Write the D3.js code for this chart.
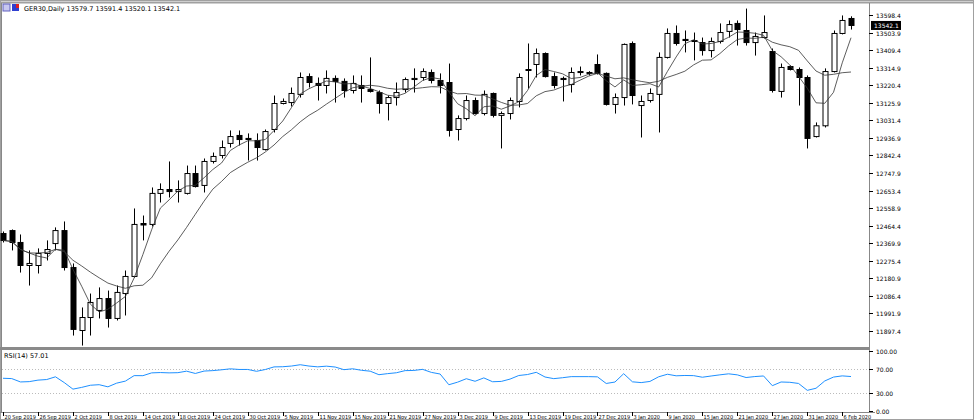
<!DOCTYPE html><html><head><meta charset="utf-8">
<script src="https://cdn.jsdelivr.net/npm/d3@7/dist/d3.min.js"></script>
<style>body{margin:0;background:#fff}svg{display:block;font-family:Tahoma,"DejaVu Sans",sans-serif}</style></head><body>
<svg id="c" width="974" height="420"></svg>
<script>
const opens=[12422,12438,12374,12250,12250,12315,12368,12438,12239,11900,11970,12008,12072,11965,12099,12191,12476,12471,12638,12659,12648,12638,12745,12681,12810,12842,12907,12950,12934,12923,12874,12982,13122,13127,13171,13267,13230,13219,13257,13241,13192,13219,13197,13181,13122,13154,13197,13251,13262,13289,13246,13235,12982,13041,13138,13068,13176,13058,13068,13133,13305,13332,13391,13267,13257,13224,13294,13284,13332,13284,13117,13154,13445,13111,13138,13171,13370,13499,13467,13461,13450,13407,13456,13510,13553,13515,13450,13477,13402,13187,13321,13305,13262,12944,13002,13294,13499,13579.7];
const highs=[12433,12444,12417,12331,12342,12385,12455,12487,12261,12024,12099,12132,12115,12142,12223,12557,12519,12670,12692,12810,12708,12788,12788,12826,12858,12923,12977,12977,12961,12961,12982,13165,13149,13208,13289,13284,13262,13300,13273,13257,13273,13273,13370,13192,13165,13235,13262,13311,13311,13305,13284,13337,13058,13165,13154,13192,13181,13079,13154,13284,13445,13418,13397,13289,13267,13316,13321,13296,13386,13289,13176,13445,13456,13165,13203,13397,13526,13542,13515,13504,13477,13477,13553,13569,13569,13633,13504,13596,13418,13337,13327,13316,13273,13020,13311,13515,13596,13591.4];
const lows=[12374,12331,12212,12142,12207,12277,12331,12223,11873,11819,11873,11965,11916,11954,11981,12185,12385,12460,12589,12616,12589,12632,12670,12643,12799,12826,12885,12896,12815,12815,12869,12966,13117,13106,13154,13208,13138,13176,13127,13154,13176,13127,13181,13068,13031,13111,13181,13181,13246,13230,13176,12944,12923,13031,13063,13058,13047,12880,13036,13101,13203,13262,13262,13203,13133,13181,13273,13273,13278,13111,13068,13111,13117,12939,13127,12966,13364,13434,13397,13354,13380,13370,13445,13477,13434,13434,13380,13472,13181,13154,13300,13111,12880,12939,12993,13289,13494,13520.1];
const closes=[12385,12374,12250,12261,12315,12336,12438,12239,11906,11970,12051,12072,11965,12105,12191,12471,12468,12638,12659,12648,12659,12745,12675,12810,12837,12885,12944,12928,12928,12885,12971,13122,13133,13176,13262,13235,13219,13257,13241,13192,13230,13203,13187,13122,13154,13181,13251,13257,13294,13246,13219,12977,13041,13138,13068,13171,13058,13068,13138,13262,13300,13391,13267,13219,13251,13289,13289,13289,13284,13117,13154,13440,13165,13133,13176,13370,13499,13445,13461,13456,13407,13456,13504,13547,13520,13450,13483,13504,13192,13316,13305,13262,12934,13002,13294,13499,13569,13542.1];
const dateLabels=["20 Sep 2019","26 Sep 2019","2 Oct 2019","8 Oct 2019","14 Oct 2019","18 Oct 2019","24 Oct 2019","30 Oct 2019","5 Nov 2019","11 Nov 2019","15 Nov 2019","21 Nov 2019","27 Nov 2019","3 Dec 2019","9 Dec 2019","13 Dec 2019","19 Dec 2019","27 Dec 2019","3 Jan 2020","9 Jan 2020","15 Jan 2020","21 Jan 2020","27 Jan 2020","31 Jan 2020","6 Feb 2020"];
const priceTicks=[13598.4,13503.9,13409.4,13314.9,13220.4,13125.9,13031.4,12936.9,12842.4,12747.9,12653.4,12558.9,12464.4,12369.9,12275.4,12180.9,12086.4,11991.9,11897.4];
const rsiTicks=[100,70,30,0];

const svg=d3.select("#c");
const n=closes.length;
const x=d3.scaleLinear().domain([0,n-1]).range([3,851]);
const y=d3.scaleLinear().domain([11897.4,13598.4]).range([331,15]);
const yr=d3.scaleLinear().domain([0,100]).range([411,351]);
const W=869;
svg.append("rect").attr("x",0.5).attr("y",0.5).attr("width",973).attr("height",419).attr("fill","none").attr("stroke","#a0a0a0");
svg.append("line").attr("x1",0).attr("x2",974).attr("y1",2.5).attr("y2",2.5).attr("stroke","#a0a0a0").attr("stroke-width",2);
svg.append("line").attr("x1",W+0.5).attr("x2",W+0.5).attr("y1",3).attr("y2",412).attr("stroke","#888");
svg.append("rect").attr("x",0).attr("y",347).attr("width",W).attr("height",3).attr("fill","#8a8a8a");
svg.append("line").attr("x1",0).attr("x2",W+6).attr("y1",412.5).attr("y2",412.5).attr("stroke","#888");
svg.append("line").attr("x1",1.5).attr("x2",1.5).attr("y1",3).attr("y2",412).attr("stroke","#888");
svg.append("rect").attr("x",3).attr("y",4).attr("width",7).attr("height",7).attr("fill","#c8c8f0").attr("stroke","#6060c0");
svg.append("rect").attr("x",12).attr("y",4).attr("width",7).attr("height",7).attr("fill","#3040d0");
svg.append("rect").attr("x",16).attr("y",4).attr("width",3).attr("height",4).attr("fill","#e02020");
svg.append("text").attr("x",24).attr("y",10.5).attr("font-size",6.5).text("GER30,Daily  13579.7 13591.4 13520.1 13542.1");
const ya=svg.append("g");
priceTicks.forEach(v=>{const yy=Math.round(y(v))+0.5;
 ya.append("line").attr("x1",W).attr("x2",W+4).attr("y1",yy).attr("y2",yy).attr("stroke","#000");
 ya.append("text").attr("x",W+7).attr("y",yy+2.5).attr("font-size",6).text(v.toFixed(1));});
const ly=y(closes[n-1]);
svg.append("rect").attr("x",W+2).attr("y",ly-4.5).attr("width",30).attr("height",9).attr("fill","#000");
svg.append("text").attr("x",W+5).attr("y",ly+2.5).attr("font-size",6).attr("fill","#fff").text(closes[n-1].toFixed(1));
rsiTicks.forEach(v=>{const yy=Math.round(yr(v))+0.5;
 svg.append("line").attr("x1",W).attr("x2",W+4).attr("y1",yy).attr("y2",yy).attr("stroke","#000");
 svg.append("text").attr("x",W+7).attr("y",Math.min(yy+2.5,416)).attr("font-size",6).text(v.toFixed(2));
 if(v==70||v==30) svg.append("line").attr("x1",2).attr("x2",W).attr("y1",yy).attr("y2",yy).attr("stroke","#bbb").attr("stroke-dasharray","1,2");});
dateLabels.forEach((d,k)=>{const xx=Math.round(x(k*4))+0.5;
 svg.append("line").attr("x1",xx).attr("x2",xx).attr("y1",412).attr("y2",416).attr("stroke","#000");
 svg.append("text").attr("x",xx+1).attr("y",419).attr("font-size",5.5).attr("font-family","'DejaVu Sans Condensed',sans-serif").text(d);});
const g=svg.append("g");
for(let i=0;i<n;i++){
 const cx=Math.round(x(i))+0.5;
 g.append("line").attr("x1",cx).attr("x2",cx).attr("y1",y(highs[i])).attr("y2",y(lows[i])).attr("stroke","#000");
 const up=closes[i]>=opens[i];
 const t=y(Math.max(opens[i],closes[i])), b=y(Math.min(opens[i],closes[i]));
 g.append("rect").attr("x",cx-2.5).attr("y",t).attr("width",5).attr("height",Math.max(1,b-t))
  .attr("fill",up?"#fff":"#000").attr("stroke","#000").attr("stroke-width",1);
}
function sma(p){return closes.map((_,i)=>{const s=closes.slice(Math.max(0,i-p+1),i+1);return d3.mean(s);});}
const line=d3.line().x((d,i)=>x(i)).y(d=>y(d));
svg.append("path").attr("d",line(sma(10))).attr("fill","none").attr("stroke","#333").attr("stroke-width",0.8);
svg.append("path").attr("d",line(sma(4))).attr("fill","none").attr("stroke","#333").attr("stroke-width",0.8);
const rsi=[];let ag=48,al=40;
for(let i=0;i<n;i++){
 if(i>0){const ch=closes[i]-closes[i-1];ag=(ag*13+Math.max(ch,0))/14;al=(al*13+Math.max(-ch,0))/14;}
 rsi.push(100-100/(1+ag/al));
}
svg.append("path").attr("d",d3.line().x((d,i)=>x(i)).y(d=>yr(d))(rsi)).attr("fill","none").attr("stroke","#1e90ff").attr("stroke-width",1);
svg.append("text").attr("x",4).attr("y",358).attr("font-size",6.5).text("RSI(14) 57.01");
</script></body></html>
